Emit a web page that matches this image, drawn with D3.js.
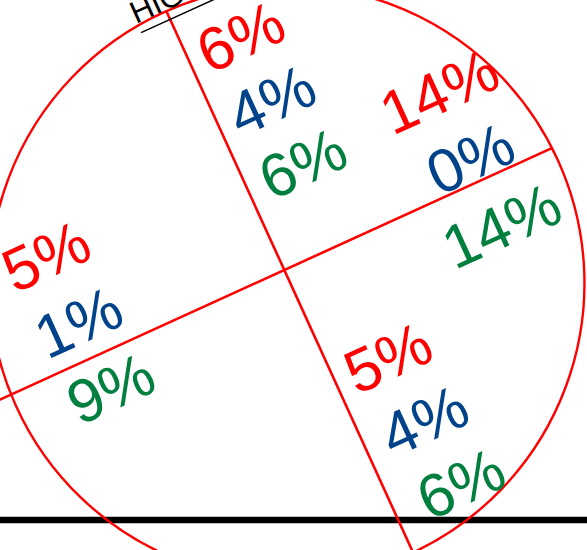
<!DOCTYPE html>
<html>
<head>
<meta charset="utf-8">
<script src="https://cdn.jsdelivr.net/npm/d3@7"></script>
<style>
  html, body { margin: 0; padding: 0; background: #fff; overflow: hidden; }
  svg { display: block; }
</style>
</head>
<body>
<svg id="chart" width="587" height="550"></svg>
<script>
// ---- data ----
const spokes    = ["up", "right", "left", "down"];
const redPct    = [6, 14, 5, 5];
const bluePct   = [4, 0, 1, 4];
const greenPct  = [6, 14, 9, 6];
const seriesKeys   = ["red", "blue", "green"];
const seriesColors = ["#ff0000", "#00438a", "#007f3f"];
const titleText = "HIGH";

// ---- layout (rotated frame, u along the long line, v across) ----
const W = 587, H = 550;
const origin = [284.3, 270];
const angle = -24.5;
const circleC = [-3, 13], circleR = 297.5;
const lineA = [-330, 294];
const lineB = [-284, 310];
const spokeLayout = {
  up:    { u: [57, 61],    v: [-231, -90] },
  right: { u: [215, 216],  v: [-99, 49] },
  left:  { u: [-211, -207], v: [-112, 35] },
  down:  { u: [58, 72],    v: [122, 267] }
};

const svg = d3.select("#chart");

svg.append("line")
  .attr("x1", 0).attr("x2", W)
  .attr("y1", 520).attr("y2", 520)
  .attr("stroke", "#000").attr("stroke-width", 6.5);

const g = svg.append("g")
  .attr("transform", `translate(${origin[0]},${origin[1]}) rotate(${angle})`);

g.append("circle")
  .attr("cx", circleC[0]).attr("cy", circleC[1]).attr("r", circleR)
  .attr("fill", "none").attr("stroke", "#ff0000").attr("stroke-width", 2.4);

g.append("line")
  .attr("x1", lineA[0]).attr("x2", lineA[1]).attr("y1", 0).attr("y2", 0)
  .attr("stroke", "#ff0000").attr("stroke-width", 2.6);
g.append("line")
  .attr("x1", 0).attr("x2", 0).attr("y1", lineB[0]).attr("y2", lineB[1])
  .attr("stroke", "#ff0000").attr("stroke-width", 2.6);

const values = [redPct, bluePct, greenPct];
const color = d3.scaleOrdinal().domain(seriesKeys).range(seriesColors);
const rows = [];
spokes.forEach((s, i) => {
  const L = spokeLayout[s];
  const uScale = d3.scaleLinear().domain([0, 2]).range(L.u);
  const vScale = d3.scaleLinear().domain([0, 2]).range(L.v);
  seriesKeys.forEach((k, j) => {
    rows.push({ spoke: s, key: k, value: values[j][i], u: uScale(j), v: vScale(j) });
  });
});

g.selectAll("text.pct").data(rows).enter().append("text")
  .attr("class", "pct")
  .attr("x", d => d.u).attr("y", d => d.v)
  .attr("dy", "0.36em")
  .attr("text-anchor", "middle")
  .attr("font-family", "'Liberation Sans', Arial, sans-serif")
  .attr("font-size", 61)
  .attr("fill", d => color(d.key))
  .text(d => d.value + "%");

const tg = svg.append("g").attr("transform", `translate(136,24) rotate(${angle})`);
const t = tg.append("text")
  .attr("x", 0).attr("y", 0)
  .attr("font-family", "'Liberation Sans', Arial, sans-serif")
  .attr("font-size", 31)
  .attr("fill", "#000")
  .text(titleText);
const tw = t.node().getComputedTextLength();
tg.append("line")
  .attr("x1", 1).attr("x2", tw + 20).attr("y1", 10).attr("y2", 10)
  .attr("stroke", "#000").attr("stroke-width", 1.5);
</script>
</body>
</html>
